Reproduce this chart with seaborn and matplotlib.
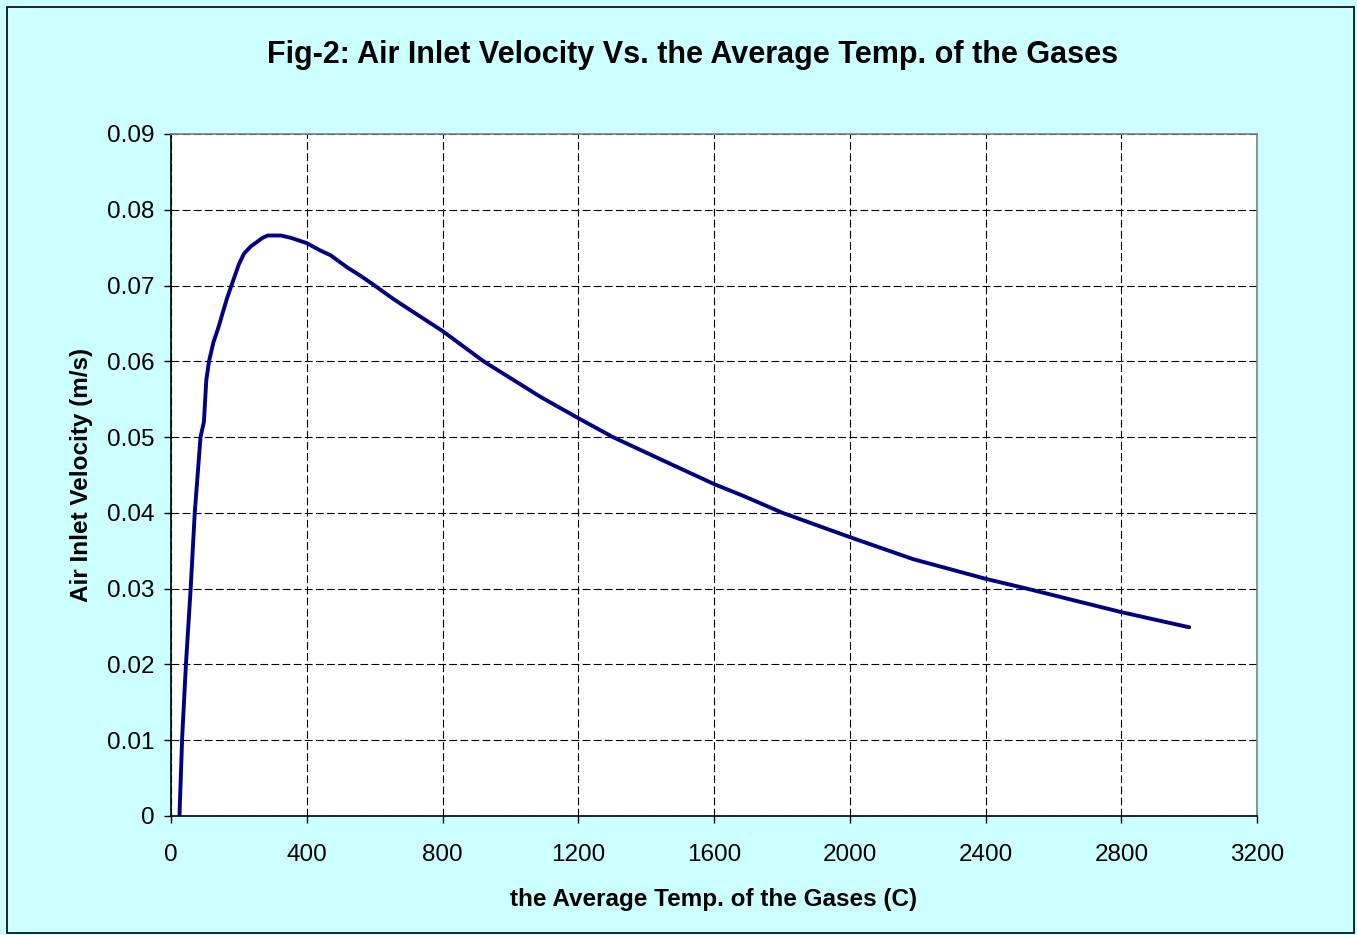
import numpy as np
import pandas as pd
import matplotlib
matplotlib.use("Agg")
import matplotlib.pyplot as plt
from matplotlib.patches import Rectangle
import seaborn as sns

# values
temp = [25, 33, 44, 58, 70, 87, 97, 104, 112, 125, 140, 153, 165, 178, 200,
        215, 236, 255, 270, 285, 324, 353, 400, 441, 470, 519, 558, 600, 656,
        714, 800, 921, 1089, 1200, 1302, 1436, 1600, 1683, 1802, 2000, 2186,
        2400, 2531, 2800, 3000]
velocity = [0.0, 0.0104, 0.020, 0.030, 0.040, 0.050, 0.052, 0.0575, 0.060,
            0.0625, 0.0645, 0.0665, 0.0683, 0.070, 0.0728, 0.0742, 0.0752,
            0.0758, 0.0763, 0.0766, 0.0766, 0.0763, 0.0756, 0.0746, 0.074,
            0.0724, 0.0713, 0.070, 0.0682, 0.0665, 0.064, 0.060, 0.0553,
            0.0525, 0.050, 0.0472, 0.0438, 0.0423, 0.040, 0.0368, 0.0339,
            0.0313, 0.0299, 0.0269, 0.0249]
x_ticks = [0, 400, 800, 1200, 1600, 2000, 2400, 2800, 3200]
y_ticks = [0, 0.01, 0.02, 0.03, 0.04, 0.05, 0.06, 0.07, 0.08, 0.09]
y_labels = ["0", "0.01", "0.02", "0.03", "0.04", "0.05", "0.06", "0.07", "0.08", "0.09"]

df = pd.DataFrame({"temp": temp, "velocity": velocity})

sns.set_style("white")
plt.rcParams["font.family"] = ["Liberation Sans", "DejaVu Sans"]
plt.rcParams["text.color"] = "black"
plt.rcParams["axes.labelcolor"] = "black"
plt.rcParams["xtick.labelcolor"] = "black"
plt.rcParams["ytick.labelcolor"] = "black"

fig = plt.figure(figsize=(13.57, 9.35), dpi=100, facecolor="#CCFFFF")
fig.patches.append(Rectangle((0.005, 0.002), 0.993, 0.991, transform=fig.transFigure,
                             fill=False, edgecolor="black", linewidth=1.2))
ax = fig.add_axes([0.126, 0.1273, 0.8004, 0.7294])
ax.set_facecolor("white")

sns.lineplot(data=df, x="temp", y="velocity", ax=ax, color="#000080",
             linewidth=2.8, estimator=None, sort=False)

ax.set_xlim(0, 3200)
ax.set_ylim(0, 0.09)
ax.set_xticks(x_ticks)
ax.set_yticks(y_ticks)
ax.set_yticklabels(y_labels)
ax.tick_params(axis="both", labelsize=17.5, length=5, width=1, direction="out",
               color="black", left=True, bottom=True)
ax.tick_params(axis="x", pad=15)
ax.tick_params(axis="y", pad=7)
ax.grid(True, color="black", linestyle=(0, (7, 3)), linewidth=0.8)

for side in ["left", "bottom"]:
    ax.spines[side].set_color("black")
    ax.spines[side].set_linewidth(1.2)
for side in ["top", "right"]:
    ax.spines[side].set_visible(True)
    ax.spines[side].set_color("#808080")
    ax.spines[side].set_linewidth(1.2)

ax.set_xlabel("the Average Temp. of the Gases (C)", fontsize=17.5, fontweight="bold", labelpad=16)
ax.set_ylabel("Air Inlet Velocity (m/s)", fontsize=17.5, fontweight="bold", labelpad=10)
fig.text(0.51, 0.941, "Fig-2: Air Inlet Velocity Vs. the Average Temp. of the Gases",
         ha="center", va="center", fontsize=22, fontweight="bold")

fig.savefig("out.png", dpi=100, facecolor=fig.get_facecolor())
